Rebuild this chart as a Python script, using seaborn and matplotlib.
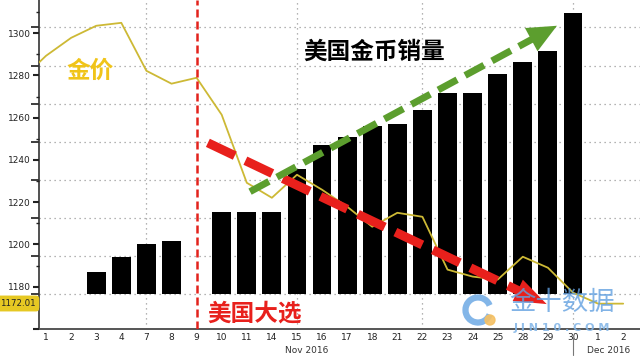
import numpy as np
import pandas as pd
import seaborn as sns
import matplotlib.pyplot as plt
import matplotlib.transforms as mtransforms
from matplotlib.patches import Arc, Ellipse

# trading days shown on the x axis (Nov 2016 + first two days of Dec)
trade_days = ["1", "2", "3", "4", "7", "8", "9", "10", "11", "14", "15", "16",
              "17", "18", "21", "22", "23", "24", "25", "28", "29", "30", "1", "2"]

# US gold coin sales (cumulative, relative units) - None where no bar
coin_sales = [None, None, 5.8, 9.7, 13.2, 13.9, None, 21.6, 21.6, 21.6, 32.9, 39.2,
              41.3, 44.2, 44.7, 48.2, 52.9, 52.9, 57.9, 60.8, 63.9, 73.9, None, None]

# gold price, with the Oct 31 close in front
gold_oct31 = 1278.0
gold_price = [1289.3, 1297.8, 1303.5, 1304.9, 1282.2, 1276.1, 1278.9, 1261.4,
              1229.2, 1222.1, 1233.0, 1225.9, 1217.9, 1208.4, 1215.0, 1213.1,
              1188.1, 1184.8, 1183.4, 1194.2, 1189.0, 1177.2, 1172.0, 1172.0]
last_price = 1172.01

gold_ticks = [1160, 1180, 1200, 1220, 1240, 1260, 1280, 1300]
election_day = "9"

sns.set_theme(style="white")
plt.rcParams["font.family"] = ["DejaVu Sans", "Noto Sans CJK SC"]
cjk = ["Noto Sans CJK SC", "DejaVu Sans"]

fig = plt.figure(figsize=(6.4, 3.6), dpi=100)
ax_b = fig.add_axes([39 / 640, 31 / 360, 601 / 640, 329 / 360])

pos = np.arange(len(trade_days))
bars = pd.DataFrame({"pos": pos, "sales": coin_sales}).dropna()
sns.barplot(data=bars, x="pos", y="sales", native_scale=True, color="black",
            saturation=1, width=0.75, linewidth=0, ax=ax_b, zorder=2)

ax_b.set_ylim(-9.19, 77.2)
ax_b.set_yticks(range(0, 71, 10))
ax_b.grid(axis="y", ls=(0, (1, 3)), color="#9a9a9a", lw=0.9)
for v in [4, 10, 15, 21]:
    ax_b.axvline(v, ls=(0, (1, 3)), color="#9a9a9a", lw=0.9, zorder=0)
ax_b.set_axisbelow(True)
ax_b.tick_params(axis="y", left=False, right=False, labelleft=False)
ax_b.set_xticks(pos)
ax_b.set_xticklabels(trade_days)
ax_b.tick_params(axis="x", length=0, pad=3, labelsize=6.5, labelcolor="#222222")
ax_b.set_xlabel("")
ax_b.set_ylabel("")
for s in ["top", "right"]:
    ax_b.spines[s].set_visible(False)
ax_b.spines["left"].set_color("#333333")
ax_b.spines["left"].set_linewidth(1.2)
ax_b.spines["bottom"].set_color("#555555")
ax_b.spines["bottom"].set_linewidth(1.4)

# gold price on a twin axis, shown on the left
ax_g = ax_b.twinx()
gx = np.arange(-1, len(trade_days))
sns.lineplot(x=gx, y=[gold_oct31] + gold_price, ax=ax_g, color="#cdb935",
             lw=1.3, zorder=3)
ax_g.yaxis.tick_left()
ax_g.set_ylim(1160.2, 1315.7)
ax_g.set_yticks(gold_ticks)
ax_g.set_yticklabels([""] + [str(t) for t in gold_ticks[1:]])
ax_g.set_yticks(range(1170, 1315, 10), minor=True)
ax_g.tick_params(axis="y", which="major", length=4, width=1.5, color="#222222",
                 labelsize=6.5, labelcolor="#222222", pad=2, left=True)
ax_g.tick_params(axis="y", which="minor", length=2, width=1, color="#222222", left=True)
ax_g.set_ylabel("")
for s in ax_g.spines.values():
    s.set_visible(False)
ax_b.set_xlim(-0.28, 23.67)

# election day marker
ax_g.axvline(trade_days.index(election_day), color="#e3221c", lw=1.8,
             ls=(0, (3.2, 1.6)), zorder=4)


def dashed_arrow(ax, start, tip, color, lw, dashes, head_frac, hl, hw):
    sx, sy = start
    tx, ty = tip
    bx, by = tx - head_frac * (tx - sx), ty - head_frac * (ty - sy)
    ax.plot([sx, bx], [sy, by], color=color, lw=lw, dashes=dashes,
            dash_capstyle="butt", zorder=5)
    # head: drawn from a point well behind the tip so the head length fits
    rx, ry = tx - 0.3 * (tx - sx), ty - 0.3 * (ty - sy)
    ax.annotate("", xy=(tx, ty), xytext=(rx, ry), zorder=5,
                arrowprops=dict(arrowstyle=f"-|>,head_length={hl},head_width={hw}",
                                color=color, lw=0.01, shrinkA=0, shrinkB=0,
                                mutation_scale=10))


dashed_arrow(ax_g, (6.45, 1248.1), (19.95, 1171.8), "#e8201c", 6.5, (3.3, 1.3),
             0.08, 2.3, 0.85)
dashed_arrow(ax_g, (8.13, 1225.0), (20.36, 1303.5), "#5c9e2e", 5.0, (3.1, 1.3),
             0.08, 2.1, 0.95)

ax_g.text(0.085, 0.784, "金价", transform=ax_g.transAxes, family=cjk,
          fontsize=17, fontweight="bold", color="#f0c419", ha="center", va="center")
ax_g.text(0.557, 0.842, "美国金币销量", transform=ax_g.transAxes, family=cjk,
          fontsize=17, fontweight="bold", color="black", ha="center", va="center", zorder=6)
ax_g.text(0.358, 0.046, "美国大选", transform=ax_g.transAxes, family=cjk,
          fontsize=17, fontweight="bold", color="#e8201c", ha="center", va="center", zorder=6)

# month labels and separator
trans = mtransforms.blended_transform_factory(ax_b.transData, ax_b.transAxes)
ax_b.text(10.4, -0.064, "Nov 2016", transform=trans, fontsize=6.5, color="#333333",
          ha="center", va="center")
ax_b.text(22.4, -0.064, "Dec 2016", transform=trans, fontsize=6.5, color="#333333",
          ha="center", va="center")
ax_b.plot([21, 21], [-0.027, -0.079], transform=trans, clip_on=False,
          color="#777777", lw=0.8)

# last price tag
fig.text(18 / 640, 1 - 303.5 / 360, f"{last_price:.2f}", fontsize=6.2, color="#222222",
         ha="center", va="center",
         bbox=dict(boxstyle="round,pad=0.4", fc="#e6c823", ec="none"))

# watermark
fig.add_artist(Arc((478 / 640, 1 - 310 / 360), 25 / 640, 25 / 360, theta1=35, theta2=325,
                   lw=4.5, color="#76aee6", transform=fig.transFigure, alpha=0.9))
fig.add_artist(Ellipse((490 / 640, 1 - 320 / 360), 10 / 640, 10 / 360, color="#f5c063",
                       transform=fig.transFigure, alpha=0.9))
fig.text(562 / 640, 1 - 302 / 360, "金十数据", family=cjk, fontsize=19, color="#62a0e0",
         ha="center", va="center", alpha=0.8)
fig.text(562 / 640, 1 - 328 / 360, "J I N 1 0 . C O M", fontsize=8, fontweight="bold",
         color="#7fb3e6", ha="center", va="center", alpha=0.85)

fig.savefig("out.png", dpi=100)
